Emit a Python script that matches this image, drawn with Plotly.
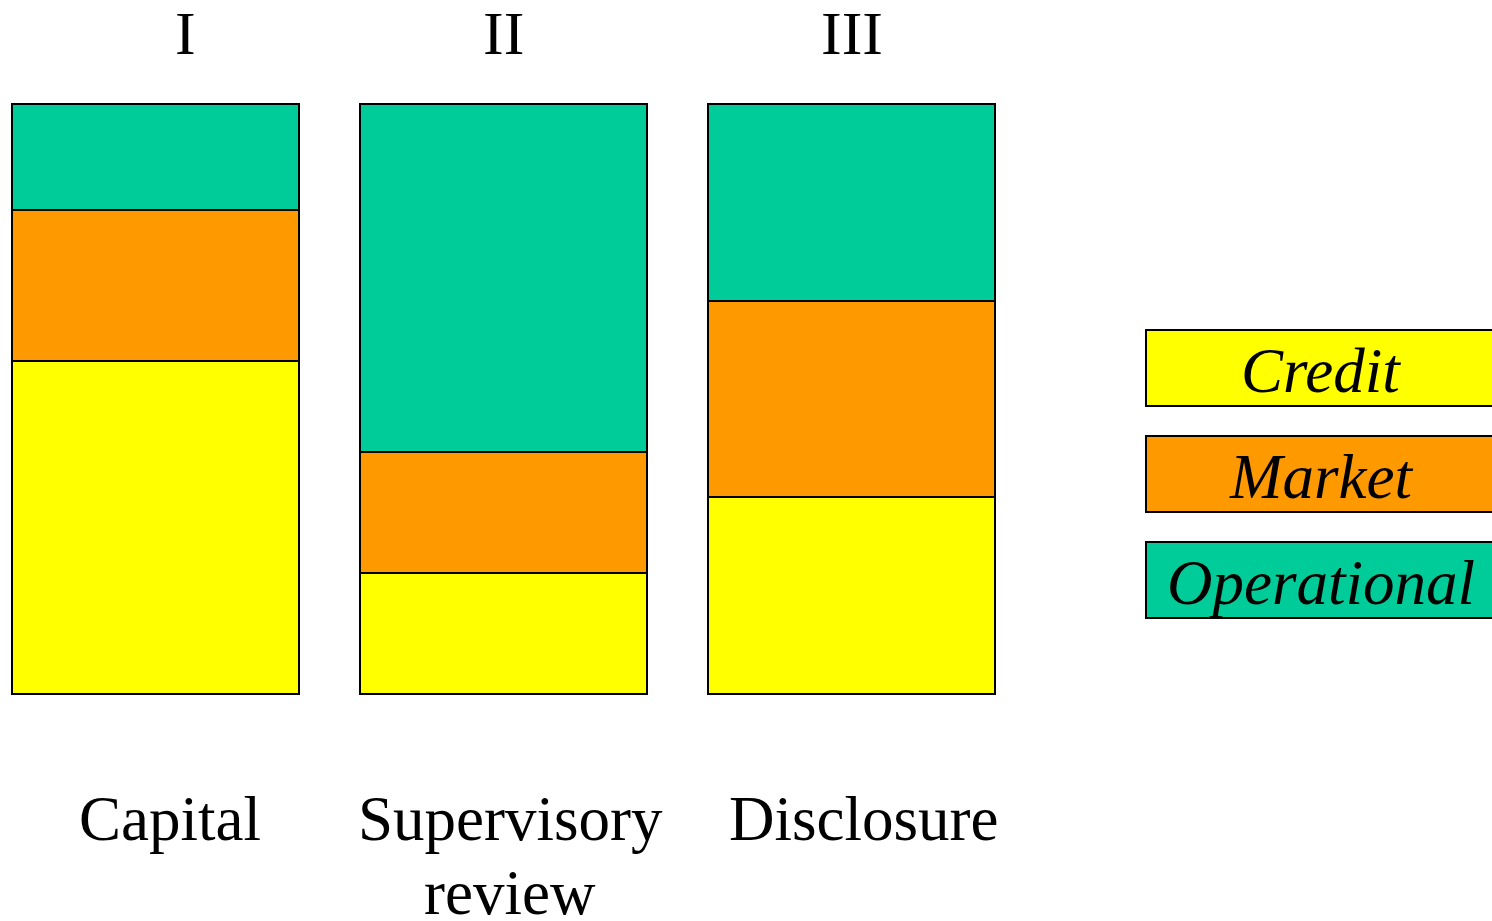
import plotly.graph_objects as go

# ---- data ----
categories = ["Capital", "Supervisory review", "Disclosure"]
label_line1 = ["Capital", "Supervisory", "Disclosure"]
label_line2 = ["", "review", ""]
pillars = ["I", "II", "III"]
credit = [56.4, 20.5, 33.4]
market = [25.6, 20.5, 33.2]
operational = [18.0, 59.0, 33.4]
series_names = ["Credit", "Market", "Operational"]
series_colors = ["#FFFF00", "#FF9900", "#00CC99"]

W, H = 1492, 921
FONT = "Liberation Serif, Times New Roman, serif"

fig = go.Figure()
for name, vals, col in zip(series_names, [credit, market, operational], series_colors):
    fig.add_trace(go.Bar(
        x=categories, y=vals, name=name, width=0.825,
        marker=dict(color=col, line=dict(color="black", width=2)),
        showlegend=False, hoverinfo="x+y+name",
    ))

def py(pix):
    return 1 - pix / H

# Pillar labels on top
top_shift = [30, 0, 0]
for cat, lab, sh in zip(categories, pillars, top_shift):
    fig.add_annotation(x=cat, xref="x", y=py(32.5), yref="paper", text=lab,
                       showarrow=False, xshift=sh, yanchor="middle",
                       font=dict(family=FONT, size=62, color="black"))

# Category labels below bars
bottom_shift = [15, 7, 12]
for cat, l1, l2, sh in zip(categories, label_line1, label_line2, bottom_shift):
    fig.add_annotation(x=cat, xref="x", y=py(818.5), yref="paper", text=l1,
                       showarrow=False, xshift=sh, yanchor="middle",
                       font=dict(family=FONT, size=63, color="black"))
    if l2:
        fig.add_annotation(x=cat, xref="x", y=py(893), yref="paper", text=l2,
                           showarrow=False, xshift=sh, yanchor="middle",
                           font=dict(family=FONT, size=63, color="black"))

# Custom legend boxes
box_tops = [330, 436, 542]
box_h = 76
x0, x1 = 1146 / W, 1497 / W
for name, col, top in zip(series_names, series_colors, box_tops):
    fig.add_shape(type="rect", xref="paper", yref="paper",
                  x0=x0, x1=x1, y0=py(top + box_h), y1=py(top),
                  fillcolor=col, line=dict(color="black", width=2))
    fig.add_annotation(x=1321 / W, xref="paper", y=py(top + box_h / 2 + 3), yref="paper",
                       text="<i>%s</i>" % name, showarrow=False,
                       xanchor="center", yanchor="middle",
                       font=dict(family=FONT, size=63, color="black"))

fig.update_layout(
    width=W, height=H,
    margin=dict(l=0, r=0, t=0, b=0),
    paper_bgcolor="white", plot_bgcolor="white",
    barmode="stack", bargap=0,
    xaxis=dict(type="category", range=[-0.4468, 3.8405], visible=False),
    yaxis=dict(range=[-38.47, 117.63], visible=False),
)

fig.write_html("out.html", config={"displayModeBar": False},
               post_script="document.body.style.margin='0';document.body.style.overflow='hidden';")
